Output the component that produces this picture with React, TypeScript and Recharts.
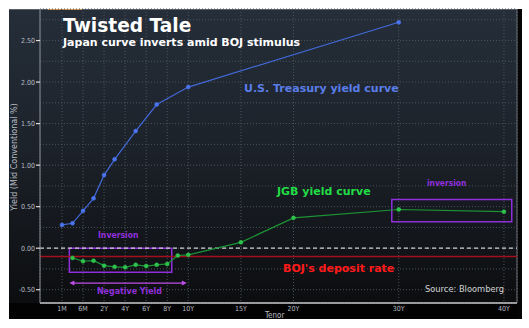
import React from "react";
import { LineChart, Line, XAxis, YAxis, CartesianGrid, ReferenceLine, ReferenceArea } from "recharts";

// tenor categories and their position on the Bloomberg-style axis (short end compressed)
const tenors = ["1M", "3M", "6M", "1Y", "2Y", "3Y", "4Y", "5Y", "6Y", "7Y", "8Y", "9Y", "10Y", "15Y", "20Y", "30Y", "40Y"];
const tenorPos = [-2, -1, 0, 1, 2, 3, 4, 5, 6, 7, 8, 9, 10, 15, 20, 30, 40];
const usYield = [0.28, 0.3, 0.45, 0.6, 0.88, 1.07, null, 1.41, null, 1.73, null, null, 1.94, null, null, 2.72, null];
const jgbYield = [null, -0.117, -0.157, -0.15, -0.21, -0.225, -0.23, -0.2, -0.215, -0.2, -0.19, -0.088, -0.08, 0.07, 0.365, 0.466, 0.44];

const xTicks = [-2, 0, 2, 4, 6, 8, 10, 15, 20, 30, 40];
const xTickLabels = ["1M", "6M", "2Y", "4Y", "6Y", "8Y", "10Y", "15Y", "20Y", "30Y", "40Y"];
const yTicks = [-0.5, -0.25, 0, 0.25, 0.5, 0.75, 1, 1.25, 1.5, 1.75, 2, 2.25, 2.5, 2.75];

const bojRate = -0.1;

const data = tenors.map((t, i) => ({ tenor: t, pos: tenorPos[i], us: usYield[i], jgb: jgbYield[i] }));

const PURPLE = "#8f2fdc";
const AXIS_TEXT = "#b8bcc2";
const FONT = "'DejaVu Sans', Verdana, sans-serif";
const COND = "'DejaVu Sans Condensed', 'DejaVu Sans', sans-serif";

function YTick({ x, y, payload }: any) {
  const v = payload.value;
  if (Math.abs((v * 2) % 1) > 0.001) return null;
  return (
    <g>
      <line x1={x - 4} x2={x} y1={y} y2={y} stroke="#ddd" strokeWidth={1.2} />
      <text x={x - 5} y={y} dy={2.5} textAnchor="end" fill={AXIS_TEXT} fontSize={7} fontFamily={COND}>
        {v.toFixed(2)}
      </text>
    </g>
  );
}

function XTick({ x, y, payload }: any) {
  const idx = xTicks.indexOf(payload.value);
  return (
    <text x={x} y={y} dy={7.5} textAnchor="middle" fill={AXIS_TEXT} fontSize={7} fontFamily={COND}>
      {xTickLabels[idx]}
    </text>
  );
}

function DoubleArrow(props: any) {
  const { x1, y1, x2, y2 } = props;
  const c = "#c04ee6";
  return (
    <g>
      <line x1={x1 + 2} x2={x2 - 2} y1={y1} y2={y2} stroke={c} strokeWidth={1.3} />
      <path d={`M${x1},${y1} L${x1 + 5},${y1 - 2.5} L${x1 + 5},${y1 + 2.5} Z`} fill={c} />
      <path d={`M${x2},${y2} L${x2 - 5},${y2 - 2.5} L${x2 - 5},${y2 + 2.5} Z`} fill={c} />
    </g>
  );
}

const txt = (style: React.CSSProperties): React.CSSProperties => ({
  position: "absolute",
  whiteSpace: "nowrap",
  fontFamily: FONT,
  lineHeight: 1,
  ...style,
});

export default function App() {
  return (
    <div style={{ position: "absolute", left: 0, top: 0, width: 529, height: 328, background: "#fff", overflow: "hidden" }}>
      <div
        style={{
          position: "absolute",
          left: 9,
          top: 9,
          width: 513,
          height: 310,
          background: "linear-gradient(180deg, #252e39 0%, #1c222a 45%, #0f1114 85%, #0a0b0d 100%)",
          borderTop: "1px solid #5a6068",
          boxSizing: "border-box",
        }}
      />
      <div style={{ position: "absolute", left: 9, top: 303, width: 513, height: 16, background: "#030303" }} />
      <div style={{ position: "absolute", left: 517, top: 9, width: 5, height: 310, background: "#050505" }} />
      <div style={{ position: "absolute", left: 48, top: 9, width: 34, height: 1, background: "#d99a4a" }} />

      <LineChart
        width={529}
        height={328}
        data={data}
        margin={{ top: 9, right: 12, bottom: 0, left: 0 }}
        style={{ position: "absolute", left: 0, top: 0 }}
      >
        <CartesianGrid stroke="#4b535c" strokeDasharray="1 2" />
        <XAxis
          dataKey="pos"
          type="number"
          domain={[-4.09, 41.24]}
          ticks={xTicks}
          allowDataOverflow
          height={25}
          axisLine={{ stroke: "#c8c8c8", strokeWidth: 1.3 }}
          tickLine={false}
          tickSize={0}
          tickMargin={0}
          tick={<XTick />}
          interval={0}
        />
        <YAxis
          type="number"
          domain={[-0.66, 2.88]}
          ticks={yTicks}
          allowDataOverflow
          width={40}
          axisLine={{ stroke: "#8a8f96" }}
          tickLine={false}
          tickSize={0}
          tickMargin={0}
          tick={<YTick />}
          interval={0}
        />
        <ReferenceLine x={41.24} stroke="#6a6f76" ifOverflow="visible" />
        <ReferenceLine y={0} stroke="#d0d0d0" strokeDasharray="4 3" strokeWidth={1.2} />
        <ReferenceLine y={bojRate} stroke="#a3101c" strokeWidth={1.3} />
        <ReferenceArea x1={-1.3} x2={8.43} y1={-0.29} y2={0} fill="none" stroke={PURPLE} strokeWidth={1.5} fillOpacity={0} />
        <ReferenceArea x1={29.34} x2={40.74} y1={0.317} y2={0.585} fill="none" stroke={PURPLE} strokeWidth={1.5} fillOpacity={0} />
        <ReferenceLine
          segment={[
            { x: -1.3, y: -0.42 },
            { x: 9.86, y: -0.42 },
          ]}
          shape={<DoubleArrow />}
        />
        <Line
          dataKey="us"
          stroke="#4268d8"
          strokeWidth={1.2}
          connectNulls
          dot={{ r: 2, fill: "#4a74f0", stroke: "#4a74f0", strokeWidth: 0.5 }}
          isAnimationActive={false}
        />
        <Line
          dataKey="jgb"
          stroke="#1c9436"
          strokeWidth={1.2}
          connectNulls
          dot={{ r: 2, fill: "#2fc24c", stroke: "#2fc24c", strokeWidth: 0.5 }}
          isAnimationActive={false}
        />
      </LineChart>

      <div style={txt({ left: 63, top: 17, fontSize: 18.6, fontWeight: 700, color: "#fff" })}>Twisted Tale</div>
      <div style={txt({ left: 63, top: 37, fontSize: 11, fontWeight: 700, color: "#fff" })}>
        Japan curve inverts amid BOJ stimulus
      </div>
      <div style={txt({ left: 244, top: 83, fontSize: 11, fontWeight: 700, color: "#5a7de8" })}>U.S. Treasury yield curve</div>
      <div style={txt({ left: 277, top: 186, fontSize: 11, fontWeight: 700, color: "#22dd44" })}>JGB yield curve</div>
      <div style={txt({ left: 283, top: 263, fontSize: 11, fontWeight: 700, color: "#ff1a1a" })}>BOJ's deposit rate</div>
      <div style={txt({ left: 98, top: 231, fontSize: 8.6, fontWeight: 700, fontFamily: COND, color: PURPLE })}>Inversion</div>
      <div style={txt({ left: 427, top: 179, fontSize: 8.4, fontWeight: 700, fontFamily: COND, color: PURPLE })}>inversion</div>
      <div style={txt({ left: 97, top: 287, fontSize: 8.8, fontWeight: 700, fontFamily: COND, color: PURPLE })}>Negative Yield</div>
      <div style={txt({ left: 425, top: 285, fontSize: 8.3, color: "#d0d0d0" })}>Source: Bloomberg</div>
      <div style={txt({ left: 265, top: 312, fontSize: 8, fontFamily: COND, color: AXIS_TEXT })}>Tenor</div>
      <div
        style={txt({
          left: 15,
          top: 157,
          fontSize: 8,
          color: AXIS_TEXT,
          transform: "translate(-50%, -50%) rotate(-90deg)",
        })}
      >
        Yield (Mid Conventional %)
      </div>
    </div>
  );
}
